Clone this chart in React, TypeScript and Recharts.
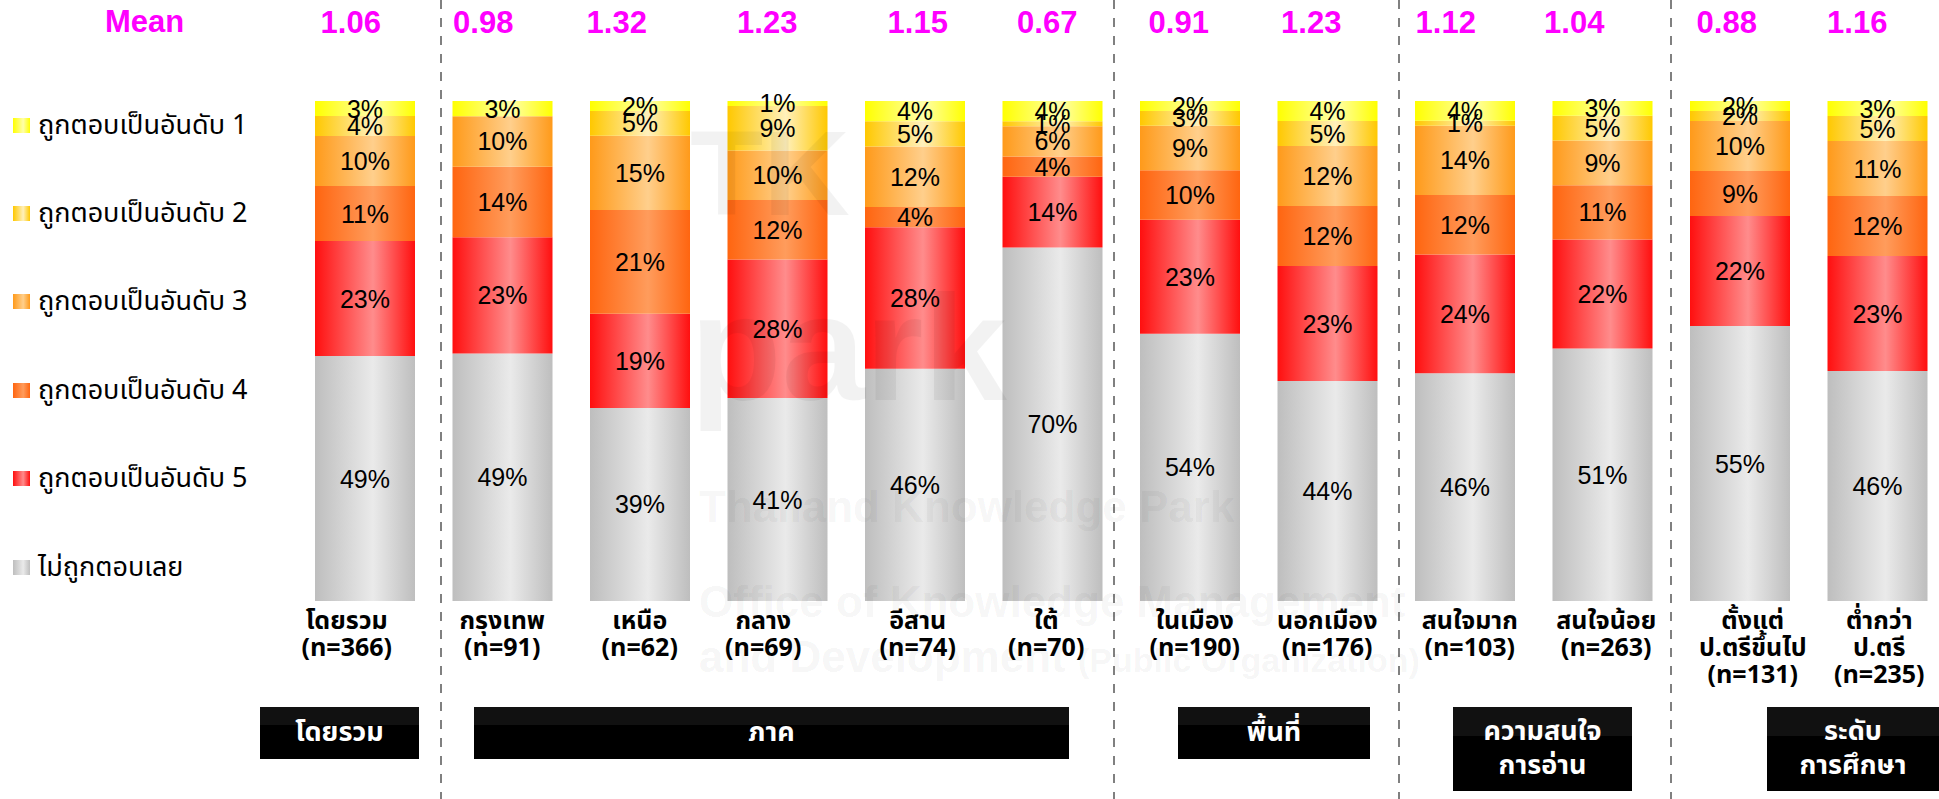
import React from 'react'
import { BarChart, Bar, XAxis, YAxis, LabelList } from 'recharts'

// categories (line break = second line of the tick label)
const CATEGORIES = [
  'โดยรวม', 'กรุงเทพ', 'เหนือ', 'กลาง', 'อีสาน', 'ใต้',
  'ในเมือง', 'นอกเมือง', 'สนใจมาก', 'สนใจน้อย', 'ตั้งแต่\nป.ตรีขึ้นไป', 'ต่ำกว่า\nป.ตรี'
]
const SAMPLE_N = [366, 91, 62, 69, 74, 70, 190, 176, 103, 263, 131, 235]
const MEANS = ['1.06', '0.98', '1.32', '1.23', '1.15', '0.67', '0.91', '1.23', '1.12', '1.04', '0.88', '1.16']

// percent of respondents, bottom to top of each bar
const NEVER = [49, 49, 39, 41, 46, 70, 54, 44, 46, 51, 55, 46]
const RANK5 = [23, 23, 19, 28, 28, 14, 23, 23, 24, 22, 22, 23]
const RANK4 = [11, 14, 21, 12, 4, 4, 10, 12, 12, 11, 9, 12]
const RANK3 = [10, 10, 15, 10, 12, 6, 9, 12, 14, 9, 10, 11]
const RANK2 = [4, 0, 5, 9, 5, 1, 3, 5, 1, 5, 2, 5]
const RANK1 = [3, 3, 2, 1, 4, 4, 2, 4, 4, 3, 2, 3]

const GROUPS = [
  { label: ['โดยรวม'], left: 260, width: 159, height: 52 },
  { label: ['ภาค'], left: 474, width: 595, height: 52 },
  { label: ['พื้นที่'], left: 1178, width: 192, height: 52 },
  { label: ['ความสนใจ', 'การอ่าน'], left: 1453, width: 179, height: 84 },
  { label: ['ระดับ', 'การศึกษา'], left: 1767, width: 172, height: 84 }
]
const DIVIDERS = [441, 1114, 1399, 1671]

const SERIES = [
  { key: 'never', name: 'ไม่ถูกตอบเลย', values: NEVER, edge: '#BEBEBE', mid: '#EAEAEA' },
  { key: 'r5', name: 'ถูกตอบเป็นอันดับ 5', values: RANK5, edge: '#FF0F0F', mid: '#FF8C8C' },
  { key: 'r4', name: 'ถูกตอบเป็นอันดับ 4', values: RANK4, edge: '#FF6510', mid: '#FF9C5C' },
  { key: 'r3', name: 'ถูกตอบเป็นอันดับ 3', values: RANK3, edge: '#FF9A1A', mid: '#FFCF8C' },
  { key: 'r2', name: 'ถูกตอบเป็นอันดับ 2', values: RANK2, edge: '#FFC800', mid: '#FFF0BC' },
  { key: 'r1', name: 'ถูกตอบเป็นอันดับ 1', values: RANK1, edge: '#FFFF00', mid: '#FFFFAA' }
]

const data = CATEGORIES.map((name, i) => {
  const row: Record<string, string | number> = { name }
  SERIES.forEach((s) => { row[s.key] = s.values[i] })
  return row
})

const THAI = "Tahoma, 'Noto Sans Thai', Loma, Garuda, 'DejaVu Sans', sans-serif"
const ARIAL = "'Liberation Sans', Arial, sans-serif"
const LABEL_DX = [-18, 0, 0, -14, 3, -6, 5, 0, 5, 4, 13, 2]
const MEAN_DX = [-14, -19, -23, -10, 3, -5, -11, -16, -19, -28, -13, -20]

// plot geometry, used to find which category a label sits on
const PLOT_LEFT = 296
const BAND = 137.5

const idxOf = (payload: any) => (payload && typeof payload.index === 'number' ? payload.index : CATEGORIES.indexOf(payload?.value))

function CategoryTick(props: any) {
  const { x, y, payload } = props
  const i = idxOf(payload)
  const lines = [...CATEGORIES[i].split('\n'), `(n=${SAMPLE_N[i]})`]
  return (
    <g>
      {lines.map((l, k) => (
        <text key={k} x={x + LABEL_DX[i]} y={y + 28 + k * 27} textAnchor="middle" fontFamily={THAI} fontWeight="bold" fontSize={25} fill="#000">
          {l}
        </text>
      ))}
    </g>
  )
}

function MeanTick(props: any) {
  const { x, payload } = props
  const i = idxOf(payload)
  return (
    <text x={x + MEAN_DX[i]} y={33} textAnchor="middle" fontFamily={ARIAL} fontWeight="bold" fontSize={31} fill="#FF00FF">
      {MEANS[i]}
    </text>
  )
}

function makeLabel(values: number[]) {
  return (props: any) => {
    const { x, y, width, height } = props
    const i = Math.floor((x + width / 2 - PLOT_LEFT) / BAND)
    const v = values[i]
    if (!v) return null
    return (
      <text x={x + width / 2} y={y + height / 2} dominantBaseline="central" textAnchor="middle" fontFamily={ARIAL} fontSize={25} fill="#000">
        {v}%
      </text>
    )
  }
}

export default function App() {
  return (
    <div style={{ position: 'absolute', left: 0, top: 0, width: 1939, height: 799, overflow: 'hidden', background: '#fff' }}>
      <BarChart width={1960} height={799} data={data} stackOffset="expand" margin={{ top: 61, right: 14, bottom: 168, left: PLOT_LEFT }}>
        <defs>
          {SERIES.map((s) => (
            <linearGradient key={s.key} id={`g-${s.key}`} x1="0" y1="0" x2="1" y2="0">
              <stop offset="0%" stopColor={s.edge} />
              <stop offset="58%" stopColor={s.mid} />
              <stop offset="100%" stopColor={s.edge} />
            </linearGradient>
          ))}
        </defs>
        <XAxis dataKey="name" xAxisId="bottom" height={30} axisLine={false} tickLine={false} tickSize={0} tickMargin={0} interval={0} tick={<CategoryTick />} />
        <XAxis dataKey="name" xAxisId="top" orientation="top" height={40} axisLine={false} tickLine={false} tickSize={0} tickMargin={0} interval={0} tick={<MeanTick />} />
        <YAxis hide domain={[0, 1]} />
        {SERIES.map((s) => (
          <Bar key={s.key} dataKey={s.key} name={s.name} stackId="a" xAxisId="bottom" barSize={100} fill={`url(#g-${s.key})`} isAnimationActive={false}>
            <LabelList dataKey={s.key} content={makeLabel(s.values)} />
          </Bar>
        ))}
      </BarChart>

      {/* legend, top entry first */}
      {[...SERIES].reverse().map((s, i) => (
        <div key={s.key} style={{ position: 'absolute', left: 13, top: 125 + i * 88.4 - 17, height: 34, display: 'flex', alignItems: 'center' }}>
          <div style={{ width: 17, height: 15, background: `linear-gradient(to right, ${s.edge}, ${s.mid} 60%, ${s.edge})`, marginRight: 8 }} />
          <span style={{ fontFamily: THAI, fontSize: 27, color: '#000', whiteSpace: 'nowrap' }}>{s.name}</span>
        </div>
      ))}

      <div style={{ position: 'absolute', left: 105, top: 4, fontFamily: ARIAL, fontWeight: 'bold', fontSize: 31, color: '#FF00FF' }}>Mean</div>

      {GROUPS.map((g) => (
        <div key={g.label.join()} style={{ position: 'absolute', left: g.left, top: 707, width: g.width, height: g.height, background: 'linear-gradient(#111 0 35%, #000 35% 100%)', color: '#fff', fontFamily: THAI, fontWeight: 'bold', fontSize: 27, lineHeight: '34px', display: 'flex', flexDirection: 'column', alignItems: 'center', justifyContent: 'center' }}>
          {g.label.map((l) => <div key={l}>{l}</div>)}
        </div>
      ))}

      <svg width={1939} height={799} style={{ position: 'absolute', left: 0, top: 0, pointerEvents: 'none' }}>
        {DIVIDERS.map((x) => (
          <line key={x} x1={x} x2={x} y1={0} y2={799} stroke="#808080" strokeWidth={2} strokeDasharray="9 9" />
        ))}
        <g fontFamily={ARIAL} fontWeight="bold" fill="rgba(0,0,0,0.05)">
          <text x={690} y={215} fontSize={120}>TK</text>
          <text x={690} y={400} fontSize={150}>park</text>
          <text x={699} y={522} fontSize={44}>Thailand Knowledge Park</text>
          <text x={699} y={617} fontSize={44}>Office of Knowledge Management</text>
          <text x={699} y={672} fontSize={44}>and Development <tspan fontSize={34}>(Public Organization)</tspan></text>
        </g>
      </svg>
    </div>
  )
}
